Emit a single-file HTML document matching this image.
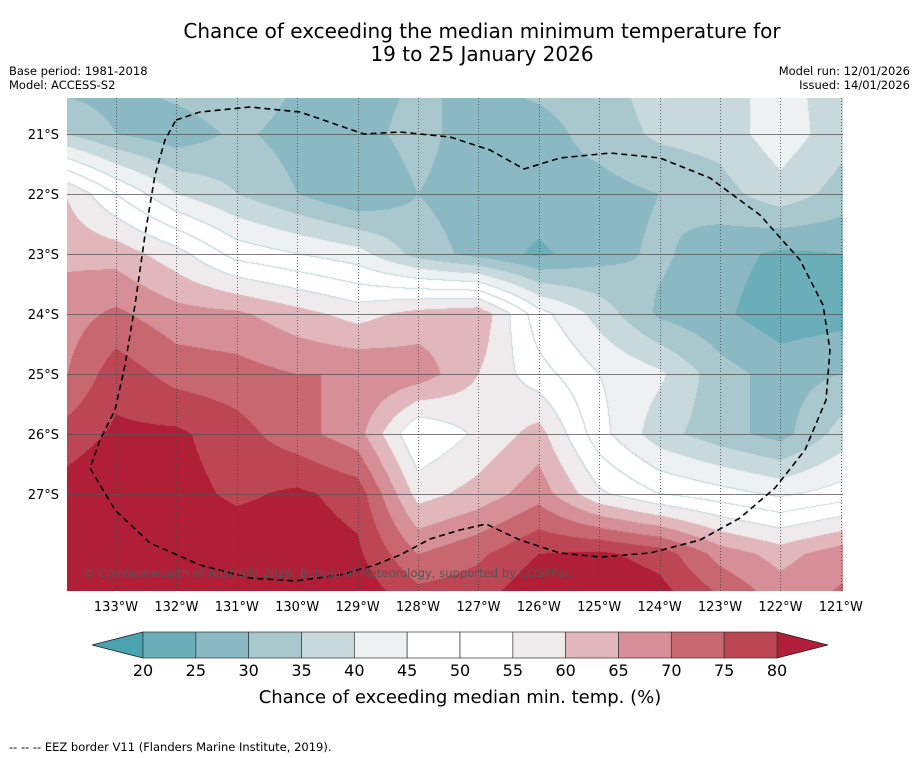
<!DOCTYPE html>
<html><head><meta charset="utf-8">
<style>
html,body{margin:0;padding:0;background:#fff;}
#wrap{position:relative;width:919px;height:758px;overflow:hidden;font-family:"DejaVu Sans","Liberation Sans",sans-serif;}
canvas{position:absolute;left:67px;top:98px;}
svg{position:absolute;left:0;top:0;}
</style></head>
<body>
<div id="wrap">
<canvas id="map" width="776" height="493"></canvas>
<svg id="ov" width="919" height="758">
<text x="482" y="38" font-size="20" text-anchor="middle" fill="#000">Chance of exceeding the median minimum temperature for</text>
<text x="482" y="61" font-size="20" text-anchor="middle" fill="#000">19 to 25 January 2026</text>
<text x="9" y="75" font-size="11.5">Base period: 1981-2018</text>
<text x="9" y="89" font-size="11.5">Model: ACCESS-S2</text>
<text x="910" y="75" font-size="11.5" text-anchor="end">Model run: 12/01/2026</text>
<text x="910" y="89" font-size="11.5" text-anchor="end">Issued: 14/01/2026</text>
<g id="grid"></g>
<path id="eez" fill="none" stroke="#000" stroke-width="1.6" stroke-dasharray="6,4"
 d="M176,120 L200,112 L250,107 L300,112 L364,134 L400,132 L450,137 L490,150 L524,169 L560,158 L610,153 L660,158 L710,178 L760,215 L800,260 L823,305 L830,350 L826,400 L805,450 L775,488 L740,518 L700,540 L650,553 L600,557 L560,553 L520,540 L486,524 L460,530 L430,539 L400,555 L375,565 L340,575 L295,581 L250,578 L200,565 L150,543 L115,510 L90,468 L100,440 L115,410 L125,365 L135,305 L145,235 L155,175 L165,140 Z"/>
<text x="83" y="577" font-size="11.6" fill="#555">© Commonwealth of Australia 2026, Bureau of Meteorology, supported by COSPPac</text>
<g id="ylabels"></g>
<g id="xlabels"></g>
<g id="cbar"></g>
<text x="460" y="703" font-size="18" text-anchor="middle">Chance of exceeding median min. temp. (%)</text>
<text x="9" y="751" font-size="11.5">--  --  -- EEZ border V11 (Flanders Marine Institute, 2019).</text>
</svg>
</div>
<script>
// grid nodes: longitudes (°W) and latitudes (°S)
const lons = [134,133,132,131,130,129,128,127,126,125,124,123,122,121,120];
const lats = [20,21,22,23,24,25,26,27,28,29];
const row20 = [27,27,33,35,30,28,30,30,32,33,38,38,42,37,37];
const row21 = [36,30,27,31,28,28,32,27,28,32,36,37,43,37,37];
const row22 = [62,50,40,35,30,25,30,27,28,28,30,33,38,33,33];
const row23 = [64,63,57,48,45,42,33,28,24,28,31,27,24,25,25];
const row24 = [67,71,67,66,62,58,62,64,47,38,29,26,22,23,23];
const row25 = [68,78,73,72,70,70,68,60,52,45,41,32,28,30,30];
const row26 = [76,81,81,77,72,67,50,56,62,47,37,32,28,37,37];
const row27 = [82,85,82,79,81,78,58,62,68,56,50,47,44,47,47];
const row28 = [85,85,85,84,83,81,70,74,80,81,78,68,63,68,68];
const row29 = [86,86,86,86,86,85,80,80,86,86,84,78,70,72,72];
const values = [row20,row21,row22,row23,row24,row25,row26,row27,row28,row29];
const levels = [20,25,30,35,40,45,50,55,60,65,70,75,80];
const colors = ['#4aa3b1','#6aaeb9','#8bb9c3','#a9c8cd','#c8d9dc','#edf1f2','#ffffff','#ffffff','#efebec','#e1b7bb','#d68f96','#c96771','#bd4655','#b01e37'];
const xTicks = [133,132,131,130,129,128,127,126,125,124,123,122,121];
const yTicks = [21,22,23,24,25,26,27];

// axis functions (page pixels)
const lonX = l => 116 + (133 - l) * 60.4;
const latY = l => 134 + (l - 21) * 60;
const xLon = x => 133 - (x - 116) / 60.4;
const yLat = y => 21 + (y - 134) / 60;

function field(lon, lat){
  let fi = (lons[0]-lon); fi = Math.max(0, Math.min(lons.length-1.0001, fi));
  let fj = (lat-lats[0]); fj = Math.max(0, Math.min(lats.length-1.0001, fj));
  const i = Math.floor(fi), j = Math.floor(fj), a = fi-i, b = fj-j;
  return values[j][i]*(1-a)*(1-b)+values[j][i+1]*a*(1-b)+values[j+1][i]*(1-a)*b+values[j+1][i+1]*a*b;
}
function bin(v){ let k=0; while(k<levels.length && v>=levels[k]) k++; return k; }

const cv = document.getElementById('map'), ctx = cv.getContext('2d');
const W=cv.width, H=cv.height;
const img = ctx.createImageData(W,H);
const bins = new Int8Array(W*H);
for(let y=0;y<H;y++) for(let x=0;x<W;x++){
  bins[y*W+x] = bin(field(xLon(x+67.5), yLat(y+98.5)));
}
function hex(c){return [parseInt(c.slice(1,3),16),parseInt(c.slice(3,5),16),parseInt(c.slice(5,7),16)];}
const rgb = colors.map(hex);
for(let y=0;y<H;y++) for(let x=0;x<W;x++){
  const k=bins[y*W+x]; let c=rgb[k];
  const r = x<W-1?bins[y*W+x+1]:k, d = y<H-1?bins[(y+1)*W+x]:k;
  if((r!==k||d!==k) && Math.min(k,r,d)>=5 && Math.max(k,r,d)<=8) c=[200,217,222];
  const p=(y*W+x)*4; img.data[p]=c[0];img.data[p+1]=c[1];img.data[p+2]=c[2];img.data[p+3]=255;
}
ctx.putImageData(img,0,0);

const NS='http://www.w3.org/2000/svg';
const grid=document.getElementById('grid');
xTicks.forEach(l=>{
  const ln=document.createElementNS(NS,'line');
  
  
  const x=Math.round(lonX(l))+0.5;
  ln.setAttribute('x1',x);ln.setAttribute('x2',x);ln.setAttribute('y1',98);ln.setAttribute('y2',591);
  ln.setAttribute('stroke','#444');ln.setAttribute('stroke-width','0.8');ln.setAttribute('stroke-dasharray','1,2');
  grid.appendChild(ln);
  const t=document.createElementNS(NS,'text');
  
  
  t.setAttribute('x',lonX(l));t.setAttribute('y',611);t.setAttribute('font-size','13');t.setAttribute('text-anchor','middle');
  t.textContent=l+'°W';
  document.getElementById('xlabels').appendChild(t);
});
yTicks.forEach(l=>{
  const ln=document.createElementNS(NS,'line');
  
  
  const y=Math.round(latY(l))+0.5;
  ln.setAttribute('x1',67);ln.setAttribute('x2',843);ln.setAttribute('y1',y);ln.setAttribute('y2',y);
  ln.setAttribute('stroke','#555');ln.setAttribute('stroke-width','0.8');
  grid.appendChild(ln);
  const t=document.createElementNS(NS,'text');
  
  
  t.setAttribute('x',59);t.setAttribute('y',latY(l)+5);t.setAttribute('font-size','13');t.setAttribute('text-anchor','end');
  t.textContent=l+'°S';
  document.getElementById('ylabels').appendChild(t);
});

// colorbar
const cb=document.getElementById('cbar');
const cbX0=143, cbX1=777, cbY=632, cbH=26;
const seg=(cbX1-cbX0)/(levels.length-1);
const lt=document.createElementNS(NS,'polygon');


lt.setAttribute('points',`92,${cbY+cbH/2} ${cbX0},${cbY} ${cbX0},${cbY+cbH}`);
lt.setAttribute('fill',colors[0]);lt.setAttribute('stroke','#222');lt.setAttribute('stroke-width','0.8');
cb.appendChild(lt);
const rt=document.createElementNS(NS,'polygon');


rt.setAttribute('points',`828,${cbY+cbH/2} ${cbX1},${cbY} ${cbX1},${cbY+cbH}`);
rt.setAttribute('fill',colors[colors.length-1]);rt.setAttribute('stroke','#222');rt.setAttribute('stroke-width','0.8');
cb.appendChild(rt);
for(let k=0;k<levels.length-1;k++){
  const r=document.createElementNS(NS,'rect');
  
  
  r.setAttribute('x',cbX0+k*seg);r.setAttribute('y',cbY);r.setAttribute('width',seg);r.setAttribute('height',cbH);
  r.setAttribute('fill',colors[k+1]);r.setAttribute('stroke','#333');r.setAttribute('stroke-width','0.7');
  cb.appendChild(r);
}
levels.forEach((v,k)=>{
  const t=document.createElementNS(NS,'text');
  
  
  t.setAttribute('x',cbX0+k*seg);t.setAttribute('y',676);t.setAttribute('font-size','16');t.setAttribute('text-anchor','middle');
  t.textContent=v;
  cb.appendChild(t);
});
</script>
</body></html>
